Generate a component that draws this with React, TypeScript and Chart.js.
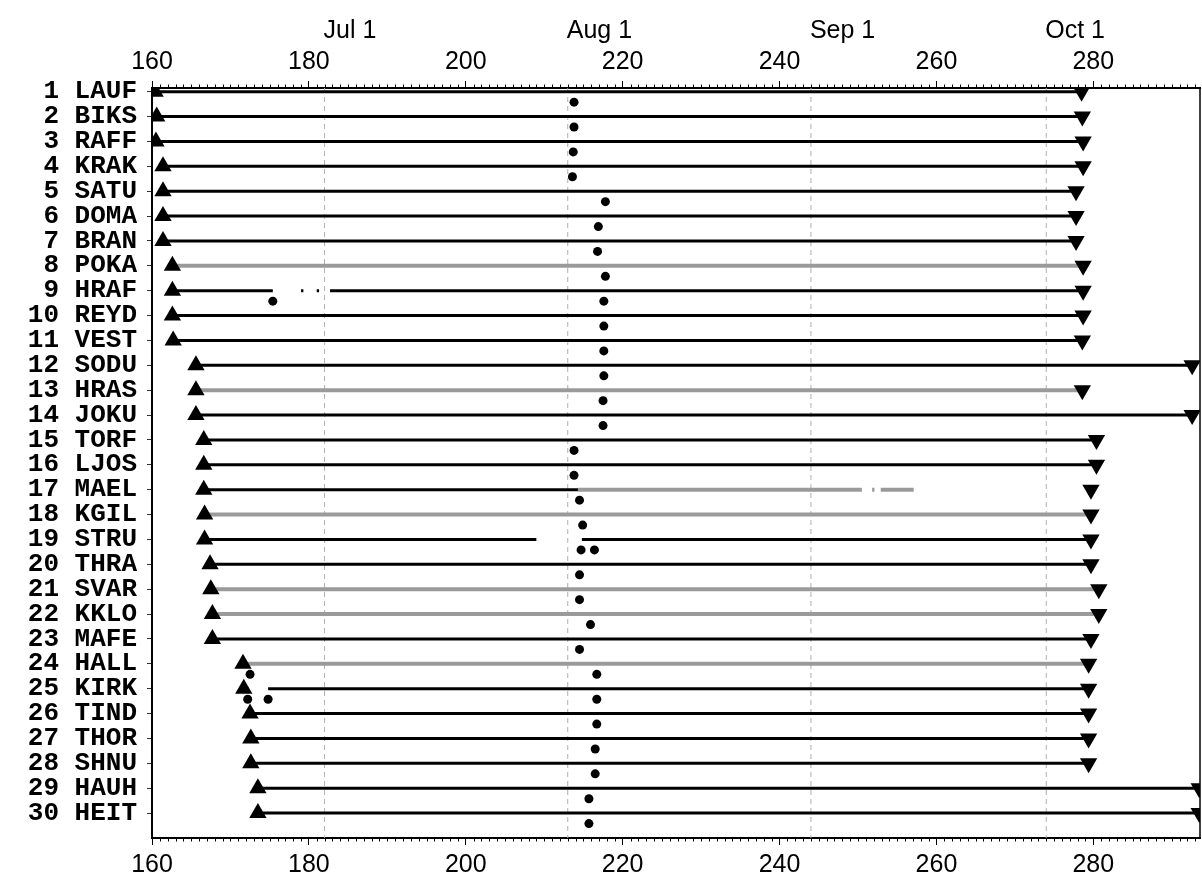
import React, { useEffect, useRef } from 'react';
import { Chart, registerables } from 'chart.js';

Chart.register(...registerables);

// ---- data ----
const stationNames = [
  'LAUF', 'BIKS', 'RAFF', 'KRAK', 'SATU', 'DOMA', 'BRAN', 'POKA', 'HRAF', 'REYD',
  'VEST', 'SODU', 'HRAS', 'JOKU', 'TORF', 'LJOS', 'MAEL', 'KGIL', 'STRU', 'THRA',
  'SVAR', 'KKLO', 'MAFE', 'HALL', 'KIRK', 'TIND', 'THOR', 'SHNU', 'HAUH', 'HEIT',
];

// day of year of first record (up triangles)
const startDays = [
  160.4, 160.6, 160.5, 161.4, 161.4, 161.4, 161.4, 162.6, 162.6, 162.6,
  162.7, 165.6, 165.6, 165.6, 166.6, 166.6, 166.6, 166.7, 166.7, 167.4,
  167.5, 167.7, 167.7, 171.6, 171.7, 172.5, 172.6, 172.6, 173.5, 173.5,
];

// day of year of last record (down triangles)
const endDays = [
  278.5, 278.6, 278.7, 278.7, 277.8, 277.8, 277.8, 278.7, 278.7, 278.7,
  278.6, 292.6, 278.6, 292.6, 280.4, 280.4, 279.7, 279.7, 279.7, 279.7,
  280.7, 280.7, 279.7, 279.4, 279.4, 279.4, 279.4, 279.4, 293.5, 293.5,
];

// [row, fromDay, toDay, colour: k = black, g = grey]
const segments: [number, number, number, string][] = [
  [1, 160.4, 278.5, 'k'],
  [2, 160.6, 278.6, 'k'],
  [3, 160.5, 278.7, 'k'],
  [4, 161.4, 278.7, 'k'],
  [5, 161.4, 277.8, 'k'],
  [6, 161.4, 277.8, 'k'],
  [7, 161.4, 277.8, 'k'],
  [8, 162.6, 278.7, 'g'],
  [9, 162.6, 175.4, 'k'],
  [9, 179.0, 179.3, 'k'],
  [9, 181.0, 181.3, 'k'],
  [9, 182.7, 278.7, 'k'],
  [10, 162.6, 278.7, 'k'],
  [11, 162.7, 278.6, 'k'],
  [12, 165.6, 292.6, 'k'],
  [13, 165.6, 278.6, 'g'],
  [14, 165.6, 292.6, 'k'],
  [15, 166.6, 280.4, 'k'],
  [16, 166.6, 280.4, 'k'],
  [17, 166.6, 214.3, 'k'],
  [17, 214.3, 250.5, 'g'],
  [17, 251.8, 252.1, 'g'],
  [17, 252.9, 257.1, 'g'],
  [18, 166.7, 279.7, 'g'],
  [19, 166.7, 209.0, 'k'],
  [19, 214.8, 279.7, 'k'],
  [20, 167.4, 279.7, 'k'],
  [21, 167.5, 280.7, 'g'],
  [22, 167.7, 280.7, 'g'],
  [23, 167.7, 279.7, 'k'],
  [24, 171.6, 279.4, 'g'],
  [25, 174.8, 279.4, 'k'],
  [26, 172.5, 279.4, 'k'],
  [27, 172.6, 279.4, 'k'],
  [28, 172.6, 279.4, 'k'],
  [29, 173.5, 293.5, 'k'],
  [30, 173.5, 293.5, 'k'],
];

// [row, day] small dots
const dots: [number, number][] = [
  [1, 213.8], [2, 213.8], [3, 213.7], [4, 213.6], [5, 217.8], [6, 216.9],
  [7, 216.8], [8, 217.8], [9, 175.4], [9, 217.6], [10, 217.6], [11, 217.6],
  [12, 217.6], [13, 217.5], [14, 217.5], [15, 213.8], [16, 213.8], [17, 214.5],
  [18, 214.9], [19, 214.7], [19, 216.4], [20, 214.5], [21, 214.5], [22, 215.9],
  [23, 214.5], [24, 172.5], [24, 216.7], [25, 172.2], [25, 174.8], [25, 216.7],
  [26, 216.7], [27, 216.5], [28, 216.5], [29, 215.7], [30, 215.7],
];

const monthDays = [182, 213, 244, 274];
const monthLabels = ['Jul 1', 'Aug 1', 'Sep 1', 'Oct 1'];
const dayTicks = [160, 180, 200, 220, 240, 260, 280];

const X_MIN = 160;
const X_MAX = 293.6;
const Y_MIN = 0.85;
const Y_MAX = 31;
const DOT_OFFSET = 0.42;

export default function App() {
  const ref = useRef<HTMLCanvasElement>(null);

  useEffect(() => {
    document.body.style.margin = '0';
    const canvas = ref.current;
    if (!canvas) return;
    const rows = stationNames.map((_, i) => i + 1);

    const datasets: any[] = [];
    datasets.push({
      type: 'scatter',
      label: 'start',
      data: rows.map((r) => ({ x: startDays[r - 1], y: r })),
      pointStyle: 'triangle',
      pointRadius: 10,
      backgroundColor: '#000',
      borderColor: '#000',
      borderWidth: 0,
      order: 0,
    });
    datasets.push({
      type: 'scatter',
      label: 'end',
      data: rows.map((r) => ({ x: endDays[r - 1], y: r })),
      pointStyle: 'triangle',
      rotation: 180,
      pointRadius: 10,
      backgroundColor: '#000',
      borderColor: '#000',
      borderWidth: 0,
      order: 0,
    });
    datasets.push({
      type: 'scatter',
      label: 'dots',
      data: dots.map(([r, d]) => ({ x: d, y: r + DOT_OFFSET })),
      pointStyle: 'circle',
      pointRadius: 4.5,
      backgroundColor: '#000',
      borderColor: '#000',
      borderWidth: 0,
      order: 0,
    });
    segments.forEach(([r, a, b, c], i) => {
      datasets.push({
        type: 'line',
        label: 'seg' + i,
        data: [{ x: a, y: r }, { x: b, y: r }],
        borderColor: c === 'g' ? '#9a9a9a' : '#000',
        borderWidth: c === 'g' ? 4 : 3,
        borderCapStyle: 'butt',
        pointRadius: 0,
        fill: false,
        order: 1,
      });
    });
    monthDays.forEach((d, i) => {
      datasets.push({
        type: 'line',
        label: 'month' + i,
        data: [{ x: d, y: Y_MIN }, { x: d, y: Y_MAX }],
        borderColor: '#b0b0b0',
        borderWidth: 1,
        borderDash: [5, 4],
        pointRadius: 0,
        fill: false,
        order: 2,
      });
    });

    const decor = {
      id: 'decor',
      afterDraw(chart: any) {
        const ctx = chart.ctx;
        const { right, top, bottom } = chart.chartArea;
        const xs = chart.scales.x;
        ctx.save();
        // frame right edge
        ctx.strokeStyle = '#000';
        ctx.lineWidth = 1.5;
        ctx.beginPath();
        ctx.moveTo(right, top);
        ctx.lineTo(right, bottom);
        ctx.stroke();
        // minor ticks every day
        ctx.lineWidth = 1;
        ctx.beginPath();
        for (let v = Math.ceil(X_MIN); v <= X_MAX; v++) {
          if (v % 20 === 0) continue;
          const px = Math.round(xs.getPixelForValue(v)) + 0.5;
          ctx.moveTo(px, top);
          ctx.lineTo(px, top - 3.5);
          ctx.moveTo(px, bottom);
          ctx.lineTo(px, bottom + 3.5);
        }
        ctx.stroke();
        // month labels
        ctx.fillStyle = '#000';
        ctx.font = '25px "Liberation Sans", Arial, sans-serif';
        ctx.textAlign = 'left';
        ctx.textBaseline = 'middle';
        monthDays.forEach((d, i) => {
          ctx.fillText(monthLabels[i], xs.getPixelForValue(d) - 1, 31);
        });
        ctx.restore();
      },
    };

    const numFont = { family: '"Liberation Sans", Arial, sans-serif', size: 25 };

    const chart = new Chart(canvas, {
      type: 'scatter',
      data: { datasets },
      plugins: [decor],
      options: {
        animation: false,
        responsive: false,
        devicePixelRatio: 1,
        layout: { autoPadding: false, padding: { right: 2, left: 0, top: 0, bottom: 0 } },
        plugins: { legend: { display: false }, tooltip: { enabled: false } },
        scales: {
          x: {
            type: 'linear',
            position: 'bottom',
            min: X_MIN,
            max: X_MAX,
            afterBuildTicks: (s: any) => {
              s.ticks = dayTicks.map((v) => ({ value: v }));
            },
            afterFit: (s: any) => {
              s.height = 41;
            },
            ticks: { font: numFont, color: '#000', padding: 5, maxRotation: 0, autoSkip: false, callback: (v: any) => String(v) },
            grid: { drawOnChartArea: false, drawTicks: true, tickLength: 7, color: '#000', lineWidth: 1 },
            border: { display: true, color: '#000', width: 2 },
          },
          xTop: {
            type: 'linear',
            position: 'top',
            min: X_MIN,
            max: X_MAX,
            afterBuildTicks: (s: any) => {
              s.ticks = dayTicks.map((v) => ({ value: v }));
            },
            afterFit: (s: any) => {
              s.height = 88;
            },
            ticks: { font: numFont, color: '#000', padding: 4, maxRotation: 0, autoSkip: false, callback: (v: any) => String(v) },
            grid: { drawOnChartArea: false, drawTicks: true, tickLength: 7, color: '#000', lineWidth: 1 },
            border: { display: true, color: '#000', width: 2 },
          },
          y: {
            type: 'linear',
            reverse: true,
            min: Y_MIN,
            max: Y_MAX,
            afterBuildTicks: (s: any) => {
              s.ticks = rows.map((v) => ({ value: v }));
            },
            afterFit: (s: any) => {
              s.width = 152;
            },
            ticks: {
              font: { family: '"Liberation Mono", "Courier New", monospace', size: 26, weight: 'bold' },
              color: '#000',
              padding: 10,
              autoSkip: false,
              callback: (v: any) => `${String(v).padStart(2, ' ')} ${stationNames[v - 1]}`,
            },
            grid: { drawOnChartArea: false, drawTicks: true, tickLength: 5, color: '#333', lineWidth: 1 },
            border: { display: true, color: '#000', width: 2 },
          },
        },
      } as any,
    });

    return () => chart.destroy();
  }, []);

  return (
    <div style={{ width: 1202, height: 879 }}>
      <canvas ref={ref} width={1202} height={879} style={{ display: 'block', width: 1202, height: 879 }} />
    </div>
  );
}
